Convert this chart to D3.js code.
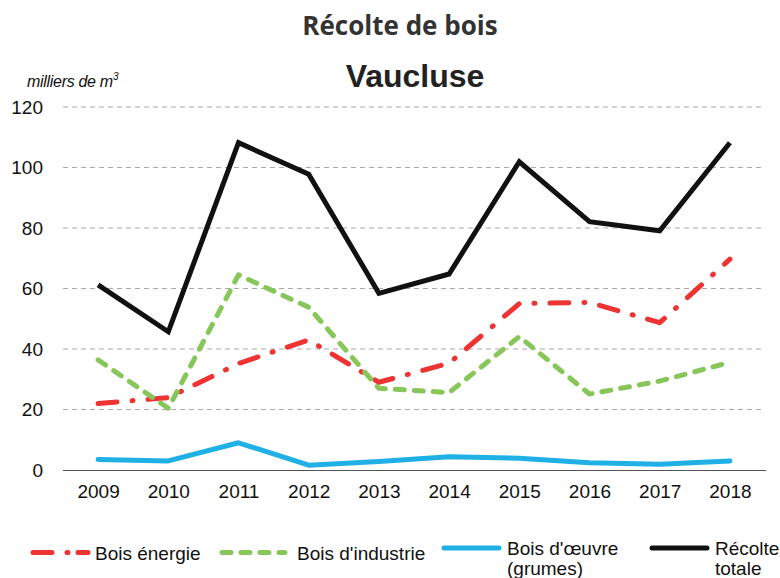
<!DOCTYPE html>
<html><head><meta charset="utf-8">
<script src="https://cdn.jsdelivr.net/npm/d3@7"></script>
<style>body{margin:0;background:#fff}svg{display:block}</style>
</head><body>
<script>
const years = ["2009","2010","2011","2012","2013","2014","2015","2016","2017","2018"];
const boisEnergie   = [22, 23.9, 35.2, 43, 29, 35.3, 55, 55.4, 48.7, 69.7];
const boisIndustrie = [36.4, 20.4, 64.5, 53.8, 27, 25.6, 44.1, 25.1, 29.4, 35.6];
const boisOeuvre    = [3.5, 3.0, 9.0, 1.6, 2.8, 4.4, 3.9, 2.4, 1.9, 3.0];
const recolteTotale = [61.2, 45.7, 108.2, 97.8, 58.4, 64.8, 101.9, 82.1, 79.1, 108.2];
const yTicks = [0, 20, 40, 60, 80, 100, 120];

const W = 780, H = 578;
const svg = d3.select("body").append("svg").attr("width", W).attr("height", H);
const x = d3.scalePoint().domain(years).range([63, 765]).padding(0.5);
const y = d3.scaleLinear().domain([0, 120]).range([470, 107]);

// titles
svg.append("text").attr("x", 400).attr("y", 35).attr("text-anchor", "middle")
  .attr("font-family", "Open Sans").attr("font-weight", "bold").attr("font-size", 26)
  .attr("fill", "#333").text("Récolte de bois");
svg.append("text").attr("x", 415).attr("y", 87).attr("text-anchor", "middle")
  .attr("font-family", "Liberation Sans, Arial").attr("font-weight", "bold").attr("font-size", 32)
  .attr("fill", "#222").text("Vaucluse");
const unit = svg.append("text").attr("x", 27).attr("y", 87)
  .attr("font-family", "Liberation Sans, Arial").attr("font-style", "italic").attr("font-size", 16)
  .attr("fill", "#111").attr("letter-spacing", -0.3);
unit.append("tspan").text("milliers de m");
unit.append("tspan").attr("font-size", 10).attr("dy", -7).text("3");

// grid
const grid = svg.append("g");
yTicks.filter(d => d > 0).forEach(t => {
  grid.append("line").attr("x1", 63).attr("x2", 762).attr("y1", y(t)).attr("y2", y(t))
    .attr("stroke", "#aaa").attr("stroke-width", 1).attr("stroke-dasharray", "5,4");
});
// y axis labels
const yAxis = d3.axisLeft(y).tickValues(yTicks).tickSize(0).tickPadding(0);
const gy = svg.append("g").attr("transform", "translate(43,0)").call(yAxis);
gy.select(".domain").remove();
gy.selectAll("text").attr("font-family", "Liberation Sans, Arial").attr("font-size", 19).attr("fill", "#111");

// x axis
const xAxis = d3.axisBottom(x).tickSize(0).tickPadding(15);
const gx = svg.append("g").attr("transform", "translate(0,470)").call(xAxis);
gx.select(".domain").attr("stroke", "#555").attr("stroke-width", 1.2).attr("d", "M63,0.5H766");
gx.selectAll("text").attr("font-family", "Liberation Sans, Arial").attr("font-size", 19).attr("fill", "#111");

const series = [
  {name: "Bois énergie", values: boisEnergie, color: "#EE3333", dash: "19,15,1,15", join: "round", cap: "round"},
  {name: "Bois d'industrie", values: boisIndustrie, color: "#88C65A", dash: "9,10", join: "round", cap: "round"},
  {name: "Bois d'œuvre|(grumes)", values: boisOeuvre, color: "#1FB0E6", dash: null, join: "round", cap: "round"},
  {name: "Récolte|totale", values: recolteTotale, color: "#111", dash: null, join: "miter", cap: "butt"}
];
const line = d3.line().x((d, i) => x(years[i])).y(d => y(d));
series.forEach(s => {
  svg.append("path").datum(s.values).attr("d", line).attr("fill", "none")
    .attr("stroke", s.color).attr("stroke-width", 5)
    .attr("stroke-linejoin", s.join).attr("stroke-linecap", s.cap)
    .attr("stroke-dasharray", s.dash);
});

// legend
const legendPos = [
  {x1: 33, x2: 88, ly: 552.5, tx: 95, ty: 560, dash: "19,15,1,10"},
  {x1: 222, x2: 285, ly: 552.5, tx: 297, ty: 560},
  {x1: 444, x2: 499, ly: 548, tx: 507, ty: 555},
  {x1: 652, x2: 707, ly: 548, tx: 715, ty: 555}
];
series.forEach((s, i) => {
  const p = legendPos[i];
  svg.append("line").attr("x1", p.x1).attr("x2", p.x2).attr("y1", p.ly).attr("y2", p.ly)
    .attr("stroke", s.color).attr("stroke-width", 5).attr("stroke-linecap", "round")
    .attr("stroke-dasharray", p.dash || s.dash);
  const t = svg.append("text").attr("x", p.tx).attr("y", p.ty)
    .attr("font-family", "Liberation Sans, Arial").attr("font-size", 19).attr("fill", "#111");
  s.name.split("|").forEach((ln, k) => {
    t.append("tspan").attr("x", p.tx).attr("dy", k === 0 ? 0 : 20).text(ln);
  });
});
</script>
</body></html>
